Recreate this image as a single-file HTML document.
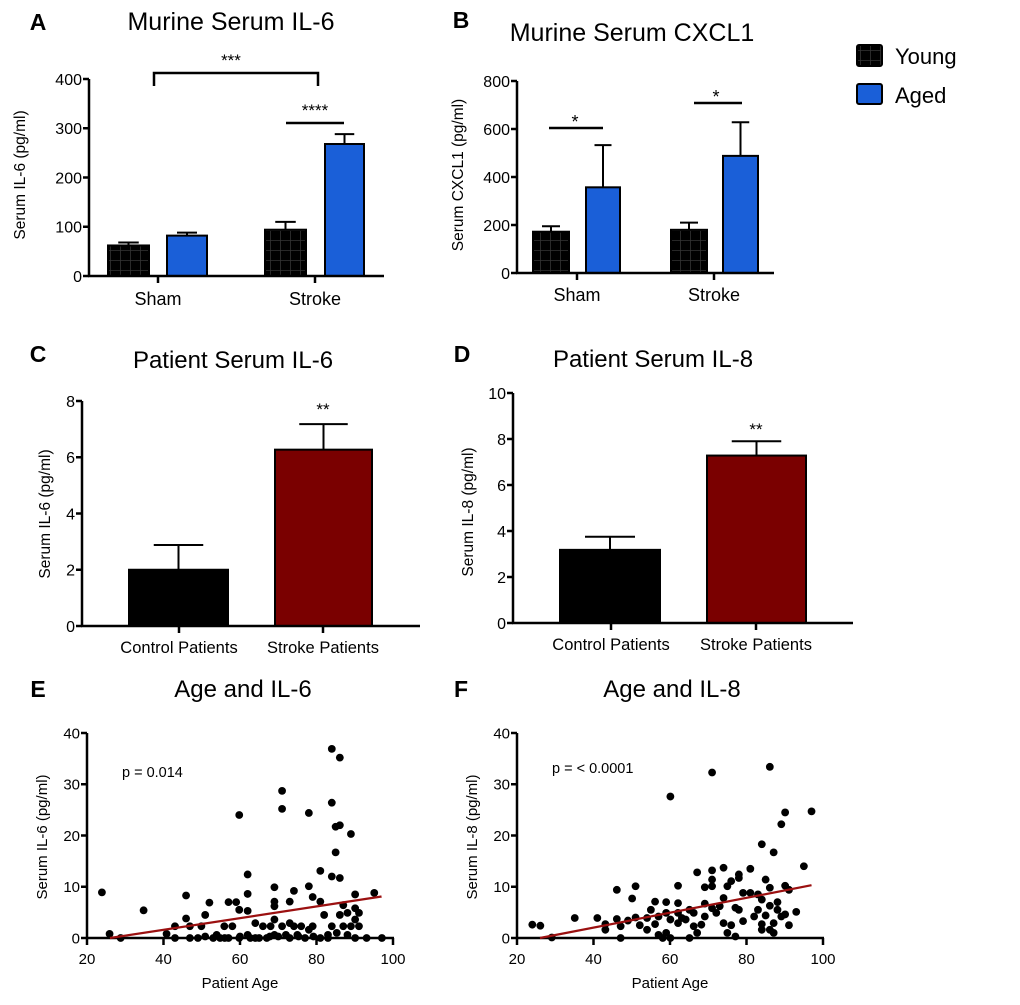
<!DOCTYPE html>
<html><head><meta charset="utf-8">
<style>
html,body{margin:0;padding:0;background:#fff;}
svg{display:block;font-family:"Liberation Sans",Arial,sans-serif;}
</style></head>
<body>
<svg id="fig" width="1020" height="1005" viewBox="0 0 1020 1005" xmlns="http://www.w3.org/2000/svg">
<defs>
<pattern id="grid" width="10" height="10" patternUnits="userSpaceOnUse">
<rect width="10" height="10" fill="#000"/>
<path d="M0 0.5H10M0.5 0V10" stroke="#333" stroke-width="0.8"/>
</pattern>
</defs>
</svg>
<script>
// ---- Panel A data ----
const aGroups = ["Sham", "Stroke"];
const aYoung = [62, 94];
const aYoungErr = [68, 110];
const aAged = [82, 268];
const aAgedErr = [88, 288];
const aTicks = [0, 100, 200, 300, 400];
// ---- Panel B data ----
const bGroups = ["Sham", "Stroke"];
const bYoung = [172, 180];
const bYoungErr = [195, 210];
const bAged = [357, 488];
const bAgedErr = [533, 628];
const bTicks = [0, 200, 400, 600, 800];
// ---- Panel C data ----
const cCats = ["Control Patients", "Stroke Patients"];
const cVals = [2.0, 6.27];
const cErr = [2.88, 7.18];
const cTicks = [0, 2, 4, 6, 8];
// ---- Panel D data ----
const dCats = ["Control Patients", "Stroke Patients"];
const dVals = [3.18, 7.28];
const dErr = [3.75, 7.9];
const dTicks = [0, 2, 4, 6, 8, 10];
// ---- Panel E data ----
const eAge = [23.9,25.9,28.8,34.8,40.8,43,43,45.9,45.9,46.9,46.9,49,49.9,50.9,50.9,52,53.9,54.8,55.9,57,57,58,59,59.8,59.8,59.8,62,62,62,62,64,64,66,67,68,69,69,69,69,69,71,71,71,72,73,73,74.1,74.1,75,76,77,78,78,78,79,79,81,81,81,82,83,84,84,84,84,85,85,86.1,86.1,86.1,86.1,87,87,88.1,88.1,89,89,90.1,90.1,90.1,90.1,91.1,91.1,93.1,95.1,97.1,53,56,60,62.7,65,67.8,70,73,75.3,79.2,83,85.3];
const eIL6 = [8.9,0.8,0,5.4,0.8,2.3,0,8.3,3.8,2.3,0,0,2.3,4.5,0.3,6.9,0.6,0,2.3,7,0,2.3,7,5.5,24,0,12.4,8.6,5.3,0.6,2.9,0,2.3,0,2.3,9.9,7.1,6.2,3.6,0.6,28.7,25.2,2.3,0.6,7.1,2.9,9.2,2.3,0.6,2.3,0,24.4,10.1,1.6,8,2.3,13.1,7.1,0,4.5,0.6,36.9,26.4,12,2.3,21.7,16.7,35.2,22,11.7,4.5,6.4,2.3,4.9,0.6,20.3,2.3,8.5,5.8,3.6,0,4.9,2.3,0,8.8,0,0,0,0.3,0,0,0.3,0.3,0,0.3,0.3,0,1.0];
const eFit = [[26, 0], [97, 8.1]];
const eXTicks = [20, 40, 60, 80, 100];
const eYTicks = [0, 10, 20, 30, 40];
// ---- Panel F data ----
const fAge = [24,26.1,29.1,35.1,41,43.1,43.1,46.1,46.1,47.1,47.1,49,50.1,51,51,52.1,54,54,55,56.1,56.1,57,57,58.1,59,59,59,60.1,60.1,60.1,62.1,62.1,62.1,62.1,63.1,64.1,65.1,65.1,66.2,66.2,67.1,67.1,68.2,69.1,69.1,69.1,71,71,71,71,71,72.1,73,74,74,74,75,75,76,76,77.1,77.1,78,78,78,79.1,79.1,81,81,82,83,83,84,84,84,84,85,85,86.1,86.1,86.1,86.1,87.1,87.1,87.1,88.1,88.1,89.1,89.1,90.1,90.1,90.1,91.1,91.1,93,95,97];
const fIL8 = [2.6,2.4,0.1,3.9,3.9,2.7,1.6,9.4,3.7,2.3,0,3.4,7.7,10.1,4,2.5,3.9,1.6,5.5,7.1,2.7,4.2,0.6,0,7,4.9,1,27.6,3.6,0,10.2,6.8,4.9,2.9,3.9,3.6,5.5,0,4.9,2.3,12.8,1,2.6,9.9,6.7,4.2,32.3,13.2,11.4,10.1,5.8,4.9,6.2,13.7,7.8,2.9,10.1,1,11.1,2.5,5.9,0.3,12.4,11.7,5.5,8.8,3.3,13.5,8.8,4.2,8.5,5.5,18.3,7.5,2.7,1.6,11.4,4.4,33.4,9.8,6.3,1.6,16.7,2.9,1,7,5.5,22.2,4.2,24.5,10.2,4.6,9.4,2.5,5.1,14,24.7];
const fFit = [[26, 0], [97, 10.3]];
const fXTicks = [20, 40, 60, 80, 100];
const fYTicks = [0, 10, 20, 30, 40];

const svg = document.getElementById('fig');
const NS = 'http://www.w3.org/2000/svg';
function mk(tag, attrs, parent, txt) {
  const e = document.createElementNS(NS, tag);
  for (const k in attrs) e.setAttribute(k, attrs[k]);
  if (txt !== undefined) e.textContent = txt;
  (parent || svg).appendChild(e);
  return e;
}
function lin(d0, d1, r0, r1) { return v => r0 + (v - d0) * (r1 - r0) / (d1 - d0); }

function yAxis(g, x, y, ticks, fs) {
  const l = mk('line', {x1: x, x2: x, y1: y(ticks[0]) + 1, y2: y(ticks[ticks.length - 1]), stroke: '#000', 'stroke-width': 2.5}, g);
  
  
  ticks.forEach(t => {
    mk('line', {x1: x - 6, x2: x, y1: y(t), y2: y(t), stroke: '#000', 'stroke-width': 2.5}, g);
    const tx = mk('text', {x: x - 7, y: y(t) + fs * 0.36, 'text-anchor': 'end', 'font-size': fs}, g, String(t));
    
    
  });
}
function yTitle(g, x, y, txt, fs) {
  const t = mk('text', {x: x, y: y, 'text-anchor': 'middle', 'font-size': fs, transform: `rotate(-90 ${x} ${y})`}, g, txt);
  
  
}
function label(g, x, y, txt, fs, name, extra) {
  const t = mk('text', Object.assign({x: x, y: y, 'text-anchor': 'middle', 'font-size': fs}, extra || {}), g, txt);
  
  
  return t;
}
function bar(g, x0, x1, y, v, err, fill, name) {
  const capHalf = (x1 - x0) / 4, cx = (x0 + x1) / 2;
  mk('line', {x1: cx, x2: cx, y1: y(v), y2: y(err), stroke: '#000', 'stroke-width': 2}, g);
  mk('line', {x1: cx - capHalf, x2: cx + capHalf, y1: y(err), y2: y(err), stroke: '#000', 'stroke-width': 2}, g);
  const r = mk('rect', {x: x0, y: y(v), width: x1 - x0, height: y(0) - y(v), fill: fill, stroke: '#000', 'stroke-width': 2}, g);
  
  
}
function panelHead(g, letter, lx, ly, title, tx, ty, fs) {
  label(g, lx, ly, letter, 23, 'panel-letter', {'font-weight': 'bold'});
  label(g, tx, ty, title, fs, 'chart-title');
}

// ===== Panel A =====
(function () {
  const g = mk('g', {});
  
  
  panelHead(g, 'A', 38, 30, 'Murine Serum IL-6', 231, 30, 25);
  const y = lin(0, 400, 276, 79);
  const centers = [158, 315];
  bar(g, centers[0] - 50, centers[0] - 9, y, aYoung[0], aYoungErr[0], 'url(#grid)', 'bar-sham-young');
  bar(g, centers[0] + 9, centers[0] + 49, y, aAged[0], aAgedErr[0], '#1a5fd8', 'bar-sham-aged');
  bar(g, centers[1] - 50, centers[1] - 9, y, aYoung[1], aYoungErr[1], 'url(#grid)', 'bar-stroke-young');
  bar(g, centers[1] + 10, centers[1] + 49, y, aAged[1], aAgedErr[1], '#1a5fd8', 'bar-stroke-aged');
  mk('line', {x1: 88, x2: 384, y1: 276, y2: 276, stroke: '#000', 'stroke-width': 2.5}, g);
  yAxis(g, 89, y, aTicks, 16);
  aGroups.forEach((c, i) => {
    mk('line', {x1: centers[i], x2: centers[i], y1: 276, y2: 283, stroke: '#000', 'stroke-width': 2.5}, g);
    label(g, centers[i], 305, c, 18, 'x-tick-label');
  });
  yTitle(g, 25, 175, 'Serum IL-6 (pg/ml)', 15.5);
  mk('path', {d: 'M154 86V73H318V86', fill: 'none', stroke: '#000', 'stroke-width': 2.5}, g);
  label(g, 231, 66, '***', 17, 'significance-stars');
  mk('line', {x1: 286, x2: 344, y1: 123, y2: 123, stroke: '#000', 'stroke-width': 2.5}, g);
  label(g, 315, 116, '****', 17, 'significance-stars');
})();

// ===== Panel B =====
(function () {
  const g = mk('g', {});
  
  
  panelHead(g, 'B', 461, 28, 'Murine Serum CXCL1', 632, 41, 25);
  const y = lin(0, 800, 273, 81);
  const centers = [577, 714];
  bar(g, 533, 569, y, bYoung[0], bYoungErr[0], 'url(#grid)', 'bar-sham-young');
  bar(g, 586, 620, y, bAged[0], bAgedErr[0], '#1a5fd8', 'bar-sham-aged');
  bar(g, 671, 707, y, bYoung[1], bYoungErr[1], 'url(#grid)', 'bar-stroke-young');
  bar(g, 723, 758, y, bAged[1], bAgedErr[1], '#1a5fd8', 'bar-stroke-aged');
  mk('line', {x1: 516, x2: 774, y1: 273, y2: 273, stroke: '#000', 'stroke-width': 2.5}, g);
  yAxis(g, 517, y, bTicks, 16);
  bGroups.forEach((c, i) => {
    mk('line', {x1: centers[i], x2: centers[i], y1: 273, y2: 280, stroke: '#000', 'stroke-width': 2.5}, g);
    label(g, centers[i], 301, c, 18, 'x-tick-label');
  });
  yTitle(g, 463, 175, 'Serum CXCL1 (pg/ml)', 15.5);
  mk('line', {x1: 549, x2: 603, y1: 128, y2: 128, stroke: '#000', 'stroke-width': 2.5}, g);
  label(g, 575, 128, '*', 18, 'significance-star');
  mk('line', {x1: 694, x2: 742, y1: 103, y2: 103, stroke: '#000', 'stroke-width': 2.5}, g);
  label(g, 716, 103, '*', 18, 'significance-star');
  const lg = mk('g', {}, g);
  
  
  const r1 = mk('rect', {x: 857, y: 45, width: 25, height: 21, rx: 2, fill: 'url(#grid)', stroke: '#000', 'stroke-width': 2}, lg);
  
  
  mk('text', {x: 895, y: 64, 'font-size': 22}, lg, 'Young');
  const r2 = mk('rect', {x: 857, y: 84, width: 25, height: 20, rx: 2, fill: '#1a5fd8', stroke: '#000', 'stroke-width': 2}, lg);
  
  
  mk('text', {x: 895, y: 103, 'font-size': 22}, lg, 'Aged');
})();

// ===== Panel C =====
(function () {
  const g = mk('g', {});
  
  
  panelHead(g, 'C', 38, 362, 'Patient Serum IL-6', 233, 368, 24);
  const y = lin(0, 8, 626, 401);
  const centers = [179, 323];
  bar(g, 129, 228, y, cVals[0], cErr[0], '#000', 'bar-control');
  bar(g, 275, 372, y, cVals[1], cErr[1], '#7a0000', 'bar-stroke');
  mk('line', {x1: 81, x2: 420, y1: 626, y2: 626, stroke: '#000', 'stroke-width': 2.5}, g);
  yAxis(g, 82, y, cTicks, 16);
  cCats.forEach((c, i) => {
    mk('line', {x1: centers[i], x2: centers[i], y1: 626, y2: 633, stroke: '#000', 'stroke-width': 2.5}, g);
    label(g, centers[i], 653, c, 16.5, 'x-tick-label');
  });
  yTitle(g, 50, 514, 'Serum IL-6 (pg/ml)', 15.5);
  label(g, 323, 415, '**', 17, 'significance-stars');
})();

// ===== Panel D =====
(function () {
  const g = mk('g', {});
  
  
  panelHead(g, 'D', 462, 362, 'Patient Serum IL-8', 653, 367, 24);
  const y = lin(0, 10, 623, 393);
  const centers = [611, 756];
  bar(g, 560, 660, y, dVals[0], dErr[0], '#000', 'bar-control');
  bar(g, 707, 806, y, dVals[1], dErr[1], '#7a0000', 'bar-stroke');
  mk('line', {x1: 512, x2: 853, y1: 623, y2: 623, stroke: '#000', 'stroke-width': 2.5}, g);
  yAxis(g, 513, y, dTicks, 16);
  dCats.forEach((c, i) => {
    mk('line', {x1: centers[i], x2: centers[i], y1: 623, y2: 630, stroke: '#000', 'stroke-width': 2.5}, g);
    label(g, centers[i], 650, c, 16.5, 'x-tick-label');
  });
  yTitle(g, 473, 512, 'Serum IL-8 (pg/ml)', 15.5);
  label(g, 756, 435, '**', 17, 'significance-stars');
})();

// ===== Scatter panels =====
function scatter(name, letter, lx, title, tx, x0, xs, ys, fit, xt, yt, ptxt, px, py, ytitle) {
  const g = mk('g', {});
  
  
  panelHead(g, letter, lx, 697, title, tx, 697, 24);
  const x = lin(20, 100, x0, x0 + 306);
  const y = lin(0, 40, 938, 733);
  mk('line', {x1: x0 - 1, x2: x0 + 307, y1: 938, y2: 938, stroke: '#000', 'stroke-width': 2.5}, g);
  xt.forEach(t => {
    mk('line', {x1: x(t), x2: x(t), y1: 938, y2: 945, stroke: '#000', 'stroke-width': 2.5}, g);
    label(g, x(t), 964, String(t), 15, 'x-tick-label');
  });
  yAxis(g, x0, y, yt, 15);
  xs.forEach((a, i) => {
    const c = mk('circle', {cx: x(a), cy: y(ys[i]), r: 3.9, fill: '#000'}, g);
    
    
  });
  const fl = mk('line', {x1: x(fit[0][0]), y1: y(fit[0][1]), x2: x(fit[1][0]), y2: y(fit[1][1]), stroke: '#9b1010', 'stroke-width': 2.2}, g);
  
  
  label(g, px, py, ptxt, 14.5, 'p-value-label', {'text-anchor': 'start'});
  label(g, x0 + 153, 988, 'Patient Age', 15, 'x-axis-title');
  yTitle(g, x0 - 40, 837, ytitle, 15);
}
scatter('panel-e', 'E', 38, 'Age and IL-6', 243, 87, eAge, eIL6, eFit, eXTicks, eYTicks, 'p = 0.014', 122, 777, 'Serum IL-6 (pg/ml)');
scatter('panel-f', 'F', 461, 'Age and IL-8', 672, 517, fAge, fIL8, fFit, fXTicks, fYTicks, 'p = < 0.0001', 552, 773, 'Serum IL-8 (pg/ml)');
</script>
</body></html>
